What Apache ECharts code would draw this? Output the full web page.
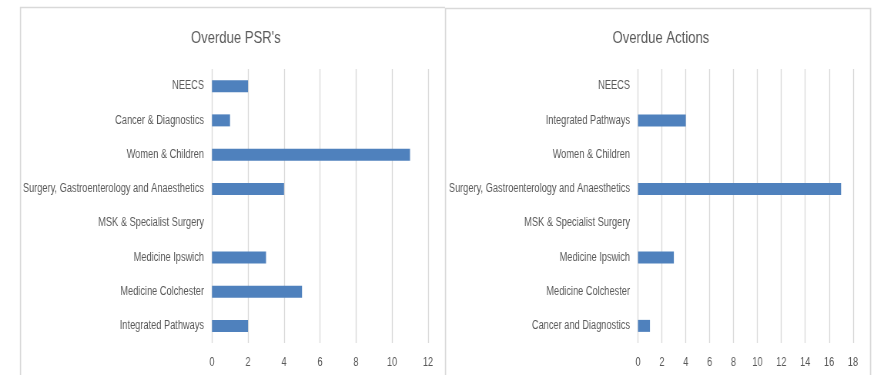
<!DOCTYPE html>
<html>
<head>
<meta charset="utf-8">
<script src="https://cdn.jsdelivr.net/npm/echarts@6/dist/echarts.min.js"></script>
<style>
  html, body { margin: 0; padding: 0; background: #fff; overflow: hidden; }
  #wrap { width: 872px; height: 375px; overflow: hidden; position: relative; }
  /* the chart is drawn wider and condensed horizontally for a narrow type face */
  #chart { height: 375px; transform-origin: 0 0; position: absolute; left: 0; top: 0; }
</style>
</head>
<body>
<div id="wrap"><div id="chart"></div></div>
<script>
// Overdue PSR's by division (listed top to bottom)
const psrCategories = [
  'NEECS',
  'Cancer & Diagnostics',
  'Women & Children',
  'Surgery, Gastroenterology and Anaesthetics',
  'MSK & Specialist Surgery',
  'Medicine Ipswich',
  'Medicine Colchester',
  'Integrated Pathways'
];
const psrValues = [2, 1, 11, 4, 0, 3, 5, 2];

// Overdue actions by division (listed top to bottom)
const actionCategories = [
  'NEECS',
  'Integrated Pathways',
  'Women & Children',
  'Surgery, Gastroenterology and Anaesthetics',
  'MSK & Specialist Surgery',
  'Medicine Ipswich',
  'Medicine Colchester',
  'Cancer and Diagnostics'
];
const actionValues = [0, 4, 0, 17, 0, 3, 0, 1];

const psrTicks = { min: 0, max: 12, interval: 2 };
const actionTicks = { min: 0, max: 18, interval: 2 };

// horizontal condensing factor
const S = 0.77;
const sx = (px) => px / S;

const el = document.getElementById('chart');
el.style.width = Math.round(sx(872)) + 'px';
el.style.transform = 'scaleX(' + S + ')';

const FONT = '"Liberation Sans", Arial, sans-serif';
const TEXT = '#595959';
const GRID_LINE = '#d9d9d9';
const BAR = '#4f81bd';

const chart = echarts.init(el, null, { renderer: 'canvas' });

function valueAxis(idx, ticks) {
  return {
    type: 'value',
    gridIndex: idx,
    min: ticks.min,
    max: ticks.max,
    interval: ticks.interval,
    axisLine: { show: false },
    axisTick: { show: false },
    axisLabel: { color: TEXT, fontFamily: FONT, fontSize: 12, margin: 14 },
    splitLine: { show: true, lineStyle: { color: GRID_LINE, width: 1.3 } }
  };
}

function categoryAxis(idx, cats) {
  return {
    type: 'category',
    gridIndex: idx,
    data: cats,
    inverse: true,
    axisLine: { show: false },
    axisTick: { show: false },
    axisLabel: { color: TEXT, fontFamily: FONT, fontSize: 12, margin: sx(8) },
    splitLine: { show: false }
  };
}

chart.setOption({
  animation: false,
  backgroundColor: '#ffffff',
  title: [
    {
      text: "Overdue PSR's",
      left: sx(232), top: 25, textAlign: 'center',
      textStyle: { color: TEXT, fontFamily: FONT, fontSize: 17, fontWeight: 'normal' }
    },
    {
      text: 'Overdue Actions',
      left: sx(657), top: 25, textAlign: 'center',
      textStyle: { color: TEXT, fontFamily: FONT, fontSize: 17, fontWeight: 'normal' }
    }
  ],
  graphic: [
    {
      type: 'polyline', silent: true,
      shape: { points: [[sx(20.5), 380], [sx(20.5), 7.5], [sx(445), 7.5]] },
      style: { stroke: GRID_LINE, lineWidth: 1.6, fill: null }
    },
    {
      type: 'polyline', silent: true,
      shape: { points: [[sx(445.5), 380], [sx(445.5), 8.5], [sx(870.5), 8.5], [sx(870.5), 380]] },
      style: { stroke: GRID_LINE, lineWidth: 1.6, fill: null }
    }
  ],
  grid: [
    { left: sx(212), top: 69, width: sx(216), height: 274, outerBoundsMode: 'none' },
    { left: sx(638), top: 69, width: sx(215), height: 274, outerBoundsMode: 'none' }
  ],
  xAxis: [valueAxis(0, psrTicks), valueAxis(1, actionTicks)],
  yAxis: [categoryAxis(0, psrCategories), categoryAxis(1, actionCategories)],
  series: [
    {
      type: 'bar', xAxisIndex: 0, yAxisIndex: 0,
      data: psrValues, barWidth: 12,
      itemStyle: { color: BAR }
    },
    {
      type: 'bar', xAxisIndex: 1, yAxisIndex: 1,
      data: actionValues, barWidth: 12,
      itemStyle: { color: BAR }
    }
  ]
});
</script>
</body>
</html>
